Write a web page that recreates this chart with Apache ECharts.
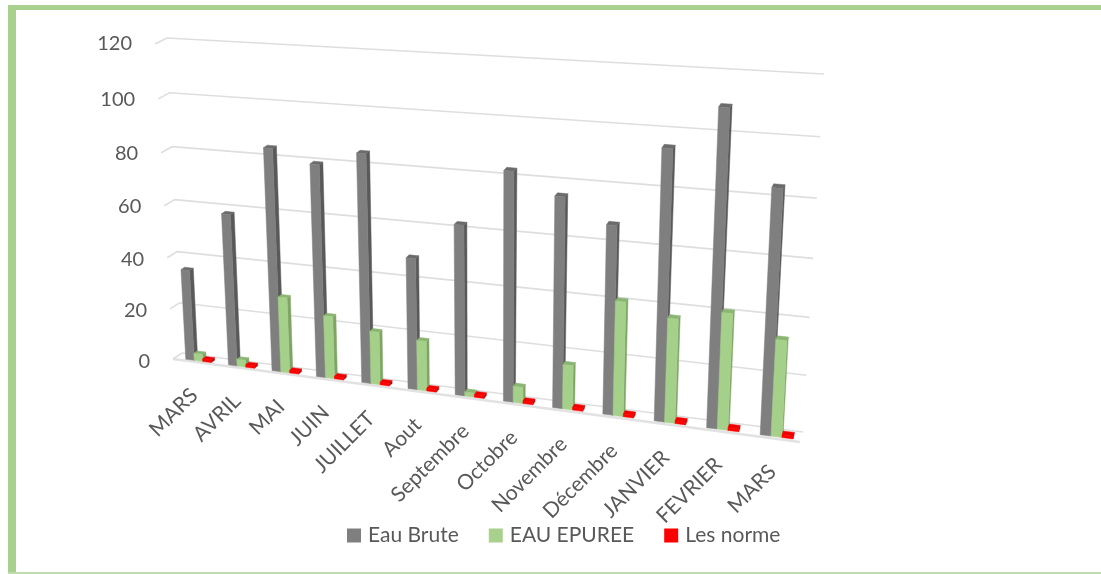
<!DOCTYPE html>
<html><head><meta charset="utf-8">
<style>html,body{margin:0;padding:0;background:#fff;overflow:hidden}#c{width:1101px;height:574px;filter:blur(0.5px)}</style>
<script src="https://cdn.jsdelivr.net/npm/echarts@6/dist/echarts.min.js"></script>
</head><body><div id="c"></div>
<script>
const categories=['MARS','AVRIL','MAI','JUIN','JUILLET','Aout','Septembre','Octobre','Novembre','Décembre','JANVIER','FEVRIER','MARS'];
const eauBrute=[35.4,58.5,84.5,80,85.3,49,62.8,83.4,76,67.7,95.3,110,85];
const eauEpuree=[2.8,2.7,29,23.8,20,18.7,1.5,6,16.3,41.3,37.3,41.3,34];
const lesNorme=[1,1,1,1,1,1,1,1,1,1,1,1,1];
const yTicks=[0,20,40,60,80,100,120];

const FONT='Lato, "Open Sans", sans-serif';
const TXT='#595959';
// perspective planes (screen corners of the chart's front and back planes)
function homography(p00,p10,p11,p01){
  const dx1=p10[0]-p11[0],dx2=p01[0]-p11[0],sx=p00[0]-p10[0]+p11[0]-p01[0];
  const dy1=p10[1]-p11[1],dy2=p01[1]-p11[1],sy=p00[1]-p10[1]+p11[1]-p01[1];
  const den=dx1*dy2-dx2*dy1;
  const g=(sx*dy2-dx2*sy)/den,h=(dx1*sy-sx*dy1)/den;
  const a=p10[0]-p00[0]+g*p10[0],b=p01[0]-p00[0]+h*p01[0],c=p00[0];
  const d=p10[1]-p00[1]+g*p10[1],e=p01[1]-p00[1]+h*p01[1],f=p00[1];
  return (s,t)=>{const w=g*s+h*t+1;return [(a*s+b*t+c)/w,(d*s+e*t+f)/w];};
}
const frontPlane=homography([173,359],[800,442],[819,84],[155,44]);
const backPlane=homography([182,353],[803,432],[824,74],[167,38]);
function project(s,t,depth){
  const F=frontPlane(s,t),B=backPlane(s,t);
  return [F[0]+(B[0]-F[0])*depth,F[1]+(B[1]-F[1])*depth];
}
// data -> plain grid pixel -> unit square -> perspective
function unit(params,api,i,v){
  const cs=params.coordSys,p=api.coord([i,v]);
  return [(p[0]-cs.x)/cs.width,(cs.y+cs.height-p[1])/cs.height];
}
const D0=0.2,D1=0.58;
function barRenderer(slot,colors){
  return function(params,api){
    const i=api.value(0),v=api.value(1);
    const cs=params.coordSys,cell=api.size([1,0])[0]/cs.width;
    const b=unit(params,api,i,0),tp=unit(params,api,i,v);
    const start=slot[0]-0.5,end=slot[1]-0.5;
    const s0=b[0]+start*cell,s1=b[0]+end*cell,t0=b[1],t1=tp[1];
    const poly=(pts,fill)=>({type:'polygon',shape:{points:pts},style:{fill:fill,stroke:fill,lineWidth:0.5}});
    return {type:'group',children:[
      poly([project(s1,t0,D0),project(s1,t0,D1),project(s1,t1,D1),project(s1,t1,D0)],colors[1]),
      poly([project(s0,t1,D0),project(s1,t1,D0),project(s1,t1,D1),project(s0,t1,D1)],colors[2]),
      poly([project(s0,t0,D0),project(s1,t0,D0),project(s1,t1,D0),project(s0,t1,D0)],colors[0])
    ]};
  };
}
const line=(pts,color,w)=>({type:'polyline',shape:{points:pts},style:{stroke:color,lineWidth:w,fill:null}});
const chart=echarts.init(document.getElementById('c'),null,{renderer:'canvas'});
chart.setOption({
  animation:false,
  backgroundColor:'#fff',
  graphic:[
    {type:'rect',shape:{x:8,y:5,width:1093,height:5},style:{fill:'#a9d18e'},silent:true},
    {type:'rect',shape:{x:8,y:5,width:8,height:569},style:{fill:'#a9d18e'},silent:true},
    {type:'rect',shape:{x:8,y:572,width:1093,height:2},style:{fill:'#c0dcae'},silent:true}
  ],
  grid:{left:60,right:60,top:40,bottom:60},
  xAxis:{type:'category',data:categories.map((c,i)=>i+':'+c),show:false},
  yAxis:{type:'value',min:0,max:120,interval:20,show:false},
  legend:{
    top:520,left:342,itemWidth:14,itemHeight:14,itemGap:30,icon:'rect',
    textStyle:{color:TXT,fontFamily:FONT,fontSize:21,padding:[0,0,0,2]},
    data:['Eau Brute','EAU EPUREE','Les norme']
  },
  series:[
    {type:'custom',name:'walls',silent:true,z:1,data:yTicks.map(v=>[0,v]),
     renderItem(params,api){
       const v=api.value(1),u=unit(params,api,0,v),t=u[1];
       const children=[];
       if(v===0){
         children.push(line([project(0,t,0),project(1,t,0)],'#e2e2e2',2.5));
       }
       children.push(line([project(0,t,0),project(0,t,1),project(1,t,1)],'#dedede',1.6));
       const a=project(0,t,0);
       children.push({type:'text',style:{x:a[0]-23,y:a[1]+(1-v/120)*2.5,text:String(v),align:'right',verticalAlign:'middle',fill:TXT,font:'20px '+FONT}});
       return {type:'group',children};
     }},
    {type:'custom',name:'Eau Brute',z:2,itemStyle:{color:'#7f7f7f'},data:eauBrute.map((v,i)=>[i,v]),
     renderItem:barRenderer([0.26,0.46],['#7f7f7f','#595959','#6b6b6b'])},
    {type:'custom',name:'EAU EPUREE',z:3,itemStyle:{color:'#a9d18e'},data:eauEpuree.map((v,i)=>[i,v]),
     renderItem:barRenderer([0.46,0.66],['#a5d08a','#7ea565','#8bb573'])},
    {type:'custom',name:'Les norme',z:4,itemStyle:{color:'#ff0000'},data:lesNorme.map((v,i)=>[i,v]),
     renderItem:barRenderer([0.66,0.86],['#ff0000','#c00000','#f00000'])},
    {type:'custom',name:'labels',silent:true,z:5,data:categories.map((c,i)=>[i,0]),
     renderItem(params,api){
       const i=api.value(0),u=unit(params,api,i,0),a=project(u[0],u[1],0);
       return {type:'text',x:a[0],y:a[1]+30,rotation:Math.PI/4,
         style:{x:0,y:0,text:categories[i],align:'right',verticalAlign:'middle',fill:TXT,font:'21px '+FONT}};
     }}
  ]
});
</script></body></html>
